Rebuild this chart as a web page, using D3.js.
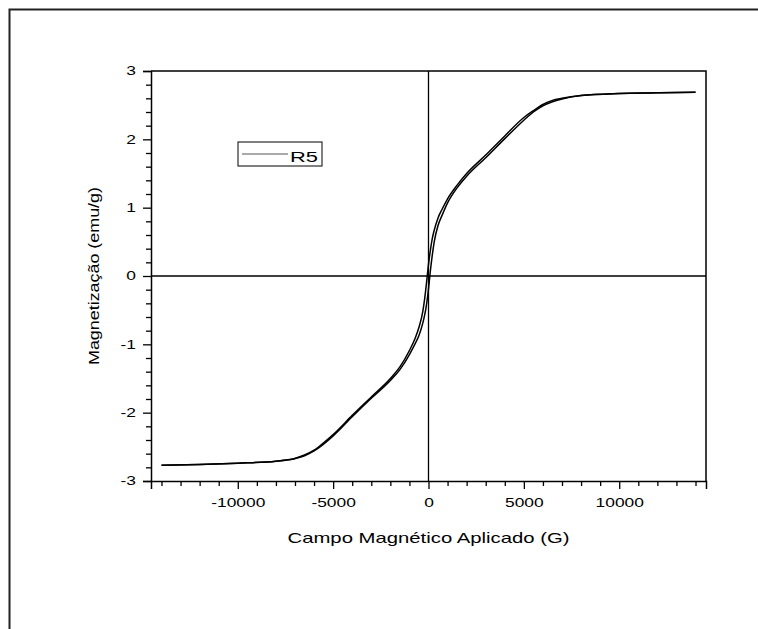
<!DOCTYPE html>
<html>
<head>
<meta charset="utf-8">
<script src="https://cdn.jsdelivr.net/npm/d3@7"></script>
<style>
  body { margin: 0; background: #fff; }
  text { font-family: "Liberation Sans", Arial, sans-serif; fill: #000; }
</style>
</head>
<body>
<div id="viz"></div>
<script>
const w = 758;
const h = 629;

// campo aplicado (G)
const field = [-14000, -12000, -10000, -8000, -7000, -6500, -6000, -5500, -5000, -4000, -3000, -2000, -1500, -1000, -700, -500, -300, -200, -100, 0, 100, 200, 300, 500, 700, 1000, 1500, 2000, 3000, 4000, 5000, 5500, 6000, 6500, 7000, 8000, 10000, 12000, 14000];
// ramo descendo (upper branch)
const magDown = [-2.77, -2.76, -2.74, -2.71, -2.67, -2.62, -2.55, -2.44, -2.32, -2.04, -1.77, -1.5, -1.33, -1.09, -0.91, -0.75, -0.52, -0.33, -0.09, 0.17, 0.38, 0.55, 0.67, 0.85, 0.97, 1.13, 1.33, 1.5, 1.77, 2.05, 2.32, 2.42, 2.51, 2.57, 2.6, 2.64, 2.67, 2.68, 2.69];
// ramo subindo (lower branch)
const magUp = [-2.77, -2.76, -2.74, -2.71, -2.67, -2.63, -2.56, -2.46, -2.34, -2.06, -1.79, -1.53, -1.37, -1.15, -0.99, -0.87, -0.69, -0.57, -0.41, -0.19, 0.08, 0.31, 0.5, 0.74, 0.88, 1.07, 1.29, 1.46, 1.73, 2.01, 2.28, 2.4, 2.49, 2.55, 2.59, 2.64, 2.67, 2.68, 2.69];

const xTicks = [-10000, -5000, 0, 5000, 10000];
const yTicks = [-3, -2, -1, 0, 1, 2, 3];
const seriesName = 'R5';

// o Origin exporta o texto esticado na horizontal
const stretch = 1.45;

const viz = d3.select('#viz');
const svg = viz.append('svg')
    .attr('width', w)
    .attr('height', h)
    .style('display', 'block');

// moldura da pagina
svg.append('path')
    .attr('d', `M9.5,${h} L9.5,9.5 L${w},9.5`)
    .attr('fill', 'none')
    .attr('stroke', '#222')
    .attr('stroke-width', 2);

const pLeft = 151, pRight = 706, pTop = 71, pBottom = 481;

const x = d3.scaleLinear().domain([-14550, 14550]).range([pLeft, pRight]);
const y = d3.scaleLinear().domain([-3, 3]).range([pBottom, pTop]);

// eixo x (embaixo)
svg.append('g')
    .attr('class', 'xaxis')
    .attr('transform', `translate(0,${pBottom})`)
    .call(d3.axisBottom(x).tickValues(xTicks).tickSize(8).tickPadding(9).tickFormat(d => String(d)));
svg.append('g')
    .attr('transform', `translate(0,${pBottom})`)
    .call(d3.axisBottom(x).tickValues(d3.range(-14000, 14001, 1000).filter(v => v % 5000 !== 0)).tickSize(5).tickFormat(''))
    .call(g => g.select('.domain').remove());

// eixo y (esquerda)
svg.append('g')
    .attr('class', 'yaxis')
    .attr('transform', `translate(${pLeft},0)`)
    .call(d3.axisLeft(y).tickValues(yTicks).tickSize(8).tickFormat(d => String(d)));
svg.append('g')
    .attr('transform', `translate(${pLeft},0)`)
    .call(d3.axisLeft(y).tickValues(d3.range(-2.8, 3, 0.2).filter(v => Math.abs(v - Math.round(v)) > 0.01)).tickSize(5).tickFormat(''))
    .call(g => g.select('.domain').remove());

svg.selectAll('.domain').attr('stroke', '#000').attr('stroke-width', 1.5);
svg.selectAll('.tick line').attr('stroke', '#000').attr('stroke-width', 1.3);
svg.selectAll('.tick text')
    .style('font-family', '"Liberation Sans", Arial, sans-serif')
    .style('font-size', '12px')
    .attr('transform', `scale(${stretch},1)`);
svg.selectAll('.yaxis .tick text')
    .attr('x', -15 / stretch);

// borda do grafico (topo e direita)
svg.append('path')
    .attr('d', `M${pLeft},${pTop} L${pRight},${pTop} L${pRight},${pBottom}`)
    .attr('fill', 'none')
    .attr('stroke', '#000')
    .attr('stroke-width', 1.5);

// linhas de zero
svg.append('line')
    .attr('x1', x(0)).attr('x2', x(0))
    .attr('y1', pTop).attr('y2', pBottom)
    .attr('stroke', '#000').attr('stroke-width', 1.3);
svg.append('line')
    .attr('x1', pLeft).attr('x2', pRight)
    .attr('y1', y(0)).attr('y2', y(0))
    .attr('stroke', '#000').attr('stroke-width', 1.3);

// curva de histerese
const line = d3.line()
    .x(d => x(d[0]))
    .y(d => y(d[1]))
    .curve(d3.curveMonotoneX);

svg.append('path')
    .attr('d', line(field.map((f, i) => [f, magUp[i]])))
    .attr('fill', 'none')
    .attr('stroke', '#000')
    .attr('stroke-width', 1.5);
svg.append('path')
    .attr('d', line(field.map((f, i) => [f, magDown[i]])))
    .attr('fill', 'none')
    .attr('stroke', '#000')
    .attr('stroke-width', 1.5);

// legenda
const legend = svg.append('g')
    .attr('transform', 'translate(238,142)');
legend.append('rect')
    .attr('width', 84)
    .attr('height', 24)
    .attr('fill', '#fff')
    .attr('stroke', '#000')
    .attr('stroke-width', 1);
legend.append('line')
    .attr('x1', 4).attr('x2', 50)
    .attr('y1', 12).attr('y2', 12)
    .attr('stroke', '#555')
    .attr('stroke-width', 1.2);
legend.append('text')
    .attr('x', 52)
    .attr('y', 19.5)
    .attr('textLength', 28)
    .attr('lengthAdjust', 'spacingAndGlyphs')
    .style('font-size', '14px')
    .text(seriesName);

// titulos dos eixos
svg.append('text')
    .attr('x', (pLeft + pRight) / 2 - 141)
    .attr('y', 543)
    .attr('textLength', 282)
    .attr('lengthAdjust', 'spacingAndGlyphs')
    .style('font-size', '15px')
    .text('Campo Magnético Aplicado (G)');

svg.append('text')
    .attr('transform', `translate(99,${(pTop + pBottom) / 2}) rotate(-90)`)
    .attr('x', -89)
    .attr('textLength', 178)
    .attr('lengthAdjust', 'spacingAndGlyphs')
    .style('font-size', '15px')
    .text('Magnetização (emu/g)');
</script>
</body>
</html>
